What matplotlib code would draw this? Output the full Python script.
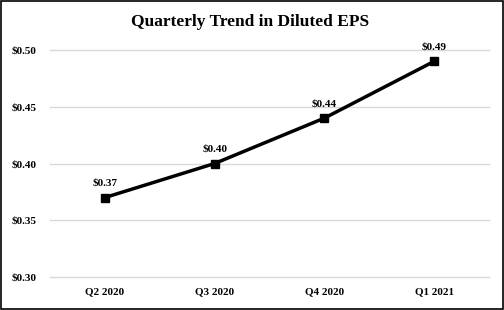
import matplotlib
matplotlib.use("Agg")
import matplotlib.pyplot as plt
from matplotlib.patches import Rectangle

quarters = ["Q2 2020", "Q3 2020", "Q4 2020", "Q1 2021"]
eps = [0.37, 0.40, 0.44, 0.49]
yticks = [0.30, 0.35, 0.40, 0.45, 0.50]

plt.rcParams['font.family'] = ['Liberation Serif', 'DejaVu Serif']

fig = plt.figure(figsize=(5.04, 3.10), dpi=100)
ax = fig.add_axes([50 / 504, 33 / 310, 439 / 504, 227 / 310])

x = list(range(len(quarters)))
ax.plot(x, eps, color="black", lw=2.5, marker="s", markersize=6, zorder=3)
for xi, v in zip(x, eps):
    ax.annotate(f"${v:.2f}", (xi, v), xytext=(0, 7), textcoords="offset points",
                ha="center", va="bottom", fontsize=8, fontweight="bold")

ax.set_xlim(-0.5, 3.5)
ax.set_ylim(0.30, 0.50)
ax.set_yticks(yticks)
ax.set_yticklabels([f"${t:.2f}" for t in yticks])
ax.set_xticks(x)
ax.set_xticklabels(quarters)
ax.tick_params(length=0, labelsize=8)
ax.tick_params(axis="y", pad=10)
ax.tick_params(axis="x", pad=7)
for lab in ax.get_xticklabels() + ax.get_yticklabels():
    lab.set_fontweight("bold")
ax.grid(axis="y", color="#d9d9d9", lw=1)
for gl in ax.get_ygridlines():
    gl.set_clip_on(False)
ax.set_axisbelow(True)
for s in ax.spines.values():
    s.set_visible(False)

fig.text(0.497, 1 - 22 / 310, "Quarterly Trend in Diluted EPS", ha="center", va="center",
         fontsize=12.5, fontweight="bold")
fig.patches.append(Rectangle((0.002, 0.003), 0.996, 0.994, transform=fig.transFigure,
                             fill=False, edgecolor="black", lw=1.2))

fig.savefig("out.png", dpi=100)
